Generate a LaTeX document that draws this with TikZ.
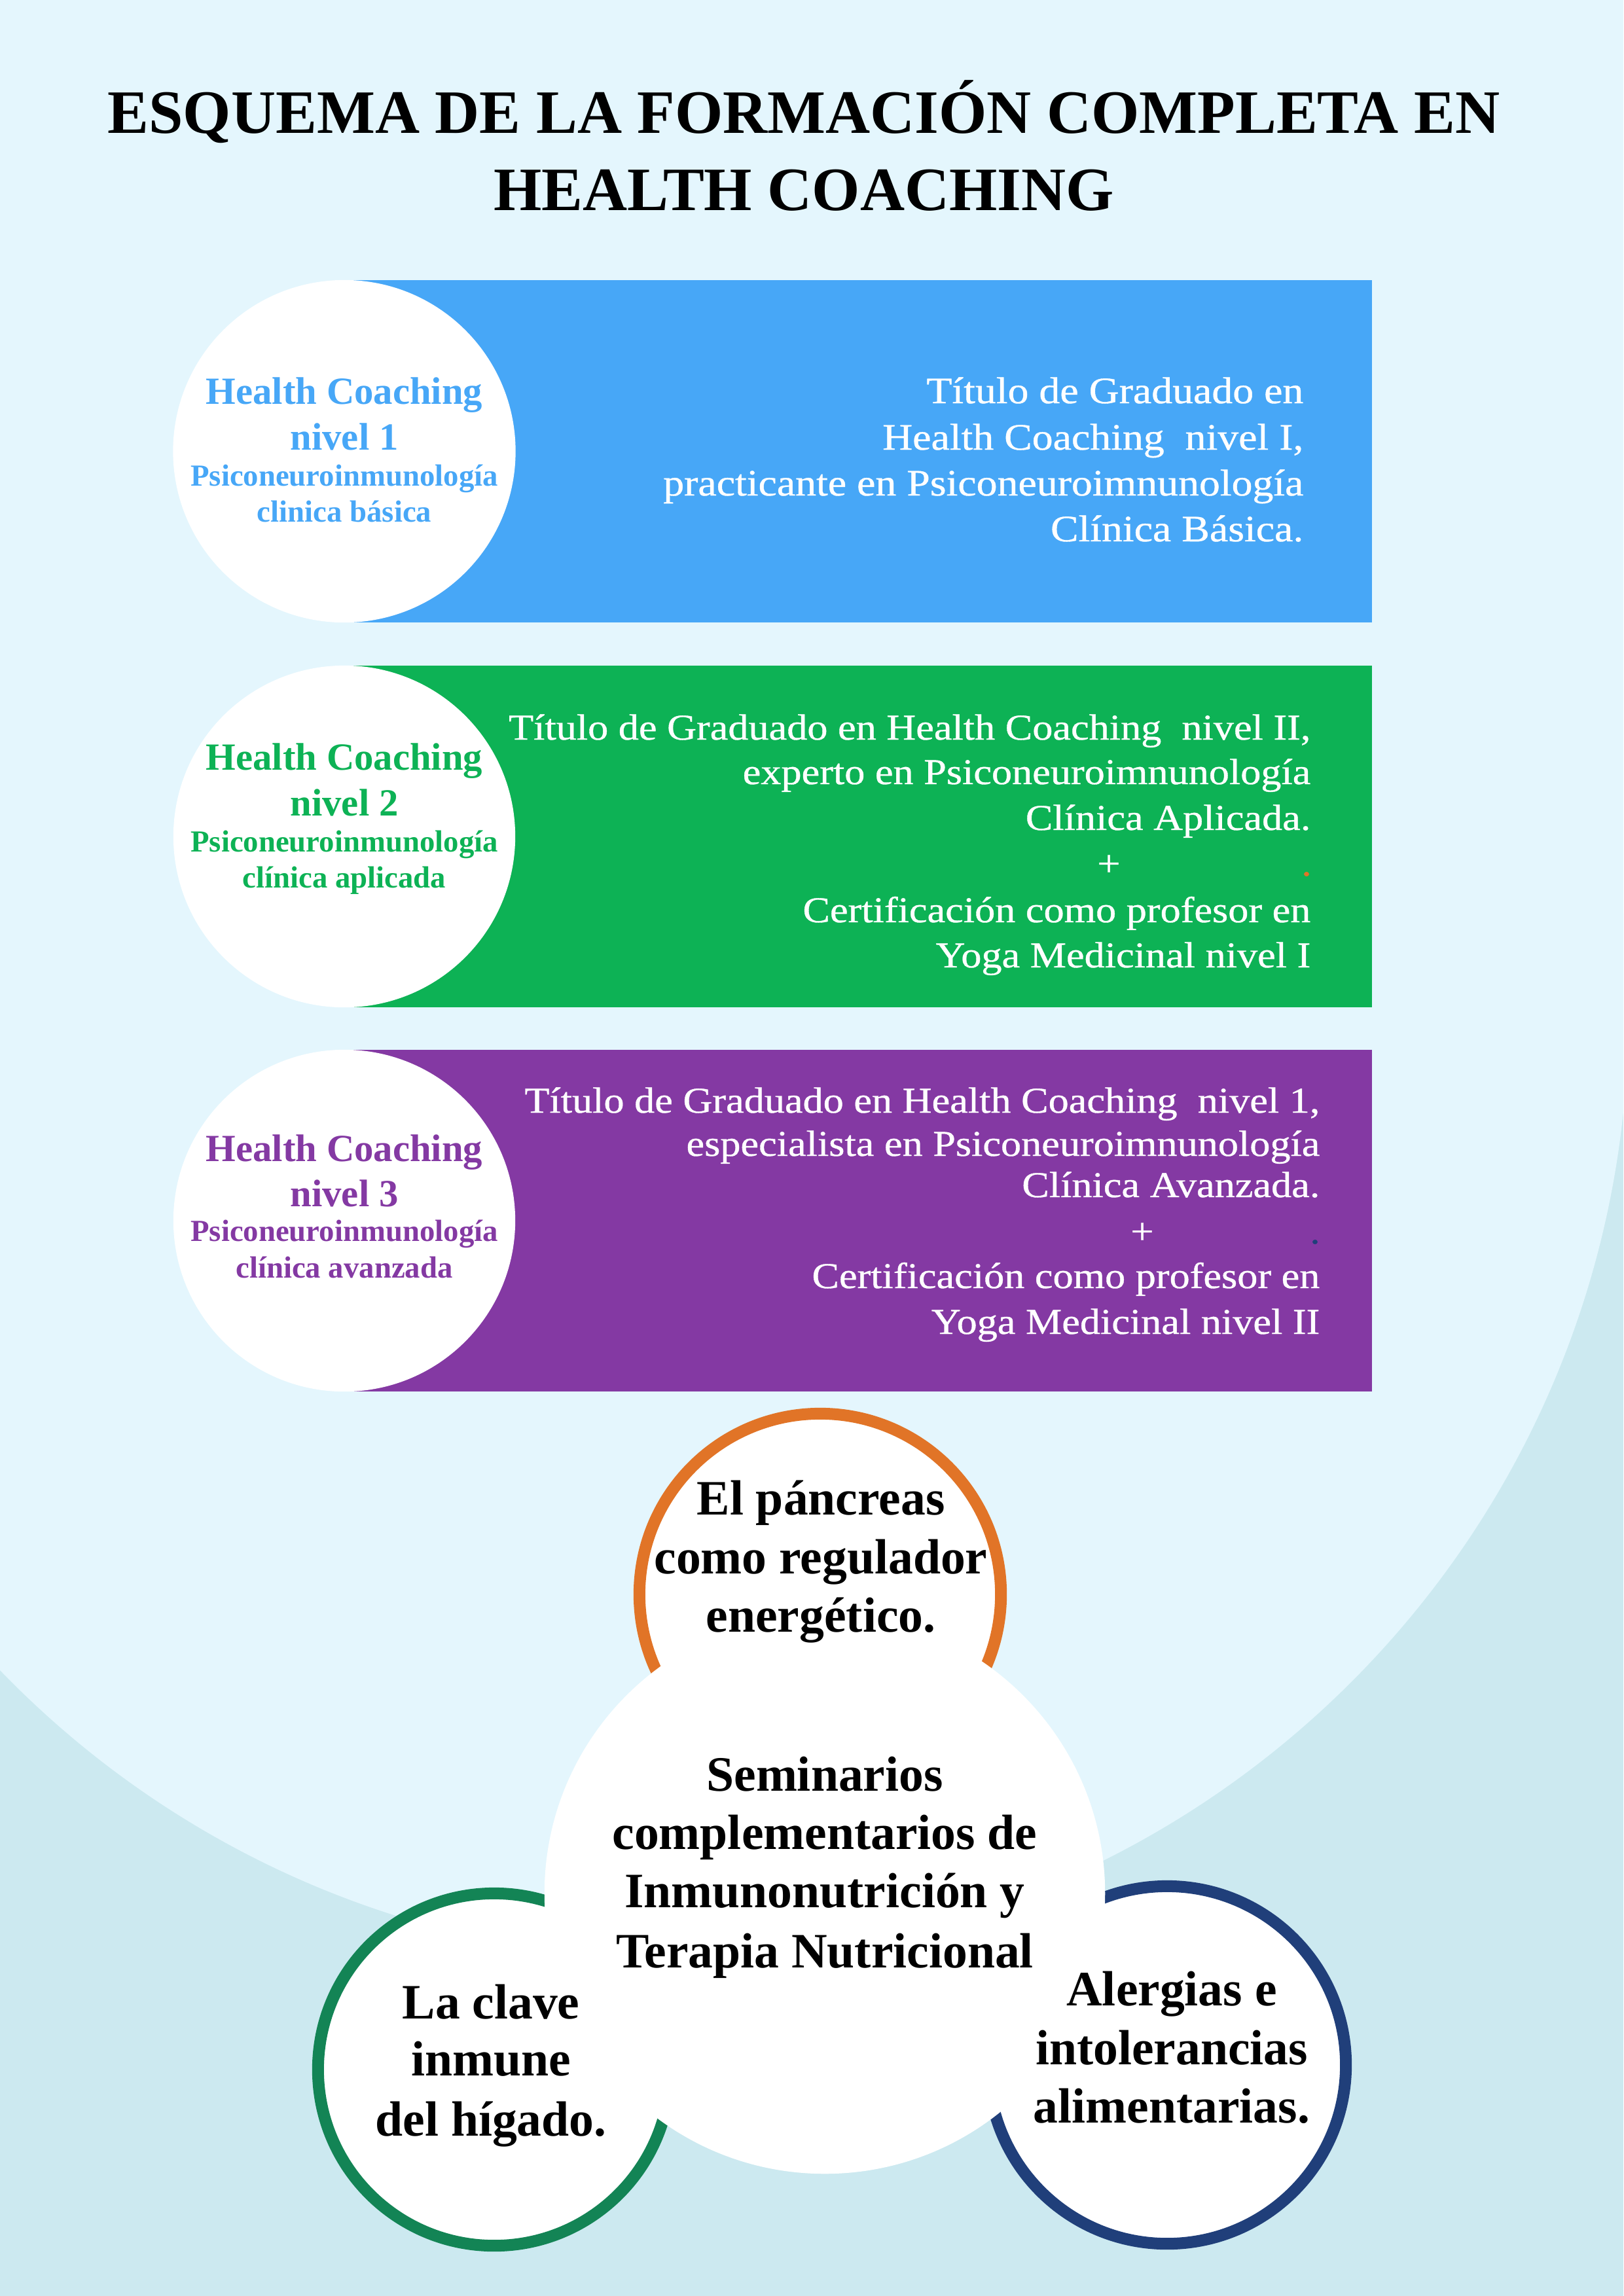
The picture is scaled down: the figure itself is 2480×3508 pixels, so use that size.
\documentclass[tikz,border=0pt]{standalone}
\usepackage{fontspec}
\setmainfont{Liberation Serif}
\newfontfamily\widefont{Liberation Serif}[FakeStretch=1.12,FakeBold=0.7]
\definecolor{bglight}{HTML}{E4F6FD}
\definecolor{bgdark}{HTML}{CCE9F0}
\definecolor{blueband}{HTML}{47A7F7}
\definecolor{greenband}{HTML}{0DB255}
\definecolor{purpleband}{HTML}{8439A3}
\definecolor{ringorange}{HTML}{E17427}
\definecolor{ringgreen}{HTML}{138455}
\definecolor{ringblue}{HTML}{203F7A}
\begin{document}
\begin{tikzpicture}[x=0.01cm,y=-0.01cm,
  ttl/.style={font=\bfseries\fontsize{26.8}{32}\selectfont, anchor=base, inner sep=0, text=black},
  hc/.style={font=\bfseries\fontsize{16.7}{20}\selectfont, anchor=base, inner sep=0},
  hcs/.style={font=\bfseries\fontsize{13.3}{16}\selectfont, anchor=base, inner sep=0},
  rtA/.style={font=\widefont\fontsize{16.2}{20}\selectfont, text=white, anchor=base east, inner sep=0},
  rtB/.style={font=\widefont\fontsize{15.8}{20}\selectfont, text=white, anchor=base east, inner sep=0},
  plus/.style={font=\widefont\fontsize{15.8}{20}\selectfont, text=white, anchor=base, inner sep=0},
  bt/.style={font=\bfseries\fontsize{21.5}{26}\selectfont, anchor=base, inner sep=0, text=black},
  ring/.style={line width=0.18cm, fill=white},
  disc/.style={fill=white}
]
% background
\useasboundingbox (0,0) rectangle (2480,3508);
\begin{scope}
\clip (0,0) rectangle (2480,3508);
\fill[bgdark] (0,0) rectangle (2480,3508);
\fill[bglight] (0,0) rectangle (2480,1547);
\fill[bglight] (1041,1547) circle[radius=14.46cm];
\end{scope}

% title
\node[ttl] (t1) at (1228,203) {ESQUEMA DE LA FORMACIÓN COMPLETA EN};
\node[ttl] (t2) at (1228,321) {HEALTH COACHING};

% band 1
\fill[blueband] (528,428) rectangle (2096,951);
\fill[disc] (526,689.5) circle[radius=2.615cm];
\node[hc, text=blueband] (c1a) at (526,617) {Health Coaching};
\node[hc, text=blueband] (c1b) at (526,687) {nivel 1};
\node[hcs, text=blueband] (c1c) at (526,742) {Psiconeuroinmunología};
\node[hcs, text=blueband] (c1d) at (526,797) {clinica básica};
\node[rtA] (r1a) at (1992,616) {Título de Graduado en};
\node[rtA] (r1b) at (1992,687) {Health Coaching\ \ nivel I,};
\node[rtA] (r1c) at (1992,757) {practicante en Psiconeuroimnunología};
\node[rtA] (r1d) at (1992,827) {Clínica Básica.};

% band 2
\fill[greenband] (528,1017) rectangle (2096,1539);
\fill[disc] (526,1278) circle[radius=2.61cm];
\node[hc, text=greenband] (c2a) at (526,1176) {Health Coaching};
\node[hc, text=greenband] (c2b) at (526,1246) {nivel 2};
\node[hcs, text=greenband] (c2c) at (526,1301) {Psiconeuroinmunología};
\node[hcs, text=greenband] (c2d) at (526,1356) {clínica aplicada};
\node[rtB] (r2a) at (2003,1130) {Título de Graduado en Health Coaching\ \ nivel II,};
\node[rtB] (r2b) at (2003,1198) {experto en Psiconeuroimnunología};
\node[rtB] (r2c) at (2003,1268) {Clínica Aplicada.};
\node[plus] (r2p) at (1694,1338) {+};
\node[plus, text=ringorange] (r2dot) at (1996,1338) {.};
\node[rtB] (r2d) at (2003,1409) {Certificación como profesor en};
\node[rtB] (r2e) at (2003,1478) {Yoga Medicinal nivel I};

% band 3
\fill[purpleband] (528,1604) rectangle (2096,2126);
\fill[disc] (526,1865) circle[radius=2.61cm];
\node[hc, text=purpleband] (c3a) at (526,1774) {Health Coaching};
\node[hc, text=purpleband] (c3b) at (526,1843) {nivel 3};
\node[hcs, text=purpleband] (c3c) at (526,1896) {Psiconeuroinmunología};
\node[hcs, text=purpleband] (c3d) at (526,1952) {clínica avanzada};
\node[rtB] (r3a) at (2017,1700) {Título de Graduado en Health Coaching\ \ nivel 1,};
\node[rtB] (r3b) at (2017,1766) {especialista en Psiconeuroimnunología};
\node[rtB] (r3c) at (2017,1829) {Clínica Avanzada.};
\node[plus] (r3p) at (1745,1900) {+};
\node[plus, text=ringblue] (r3dot) at (2009,1900) {.};
\node[rtB] (r3d) at (2017,1968) {Certificación como profesor en};
\node[rtB] (r3e) at (2017,2038) {Yoga Medicinal nivel II};

% seminar circles
\draw[ring, draw=ringorange] (1253,2436) circle[radius=2.76cm];
\draw[ring, draw=ringgreen] (755,3162) circle[radius=2.69cm];
\draw[ring, draw=ringblue] (1783,3155) circle[radius=2.73cm];
\fill[disc] (1260,2893) circle[radius=4.28cm];

\node[bt] (o1) at (1254,2314) {El páncreas};
\node[bt] (o2) at (1254,2404) {como regulador};
\node[bt] (o3) at (1254,2493) {energético.};

\node[bt] (s1) at (1260,2736) {Seminarios};
\node[bt] (s2) at (1260,2825) {complementarios de};
\node[bt] (s3) at (1260,2914) {Inmunonutrición y};
\node[bt] (s4) at (1260,3006) {Terapia Nutricional};

\node[bt] (g1) at (750,3084) {La clave};
\node[bt] (g2) at (750,3171) {inmune};
\node[bt] (g3) at (750,3263) {del hígado.};

\node[bt] (a1) at (1790,3064) {Alergias e};
\node[bt] (a2) at (1790,3154) {intolerancias};
\node[bt] (a3) at (1790,3243) {alimentarias.};
\end{tikzpicture}
\end{document}
